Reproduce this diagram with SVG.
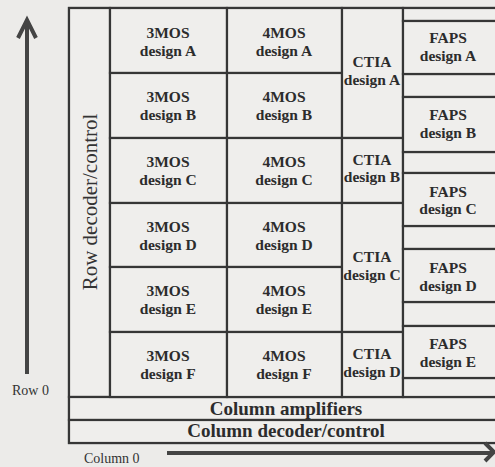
<svg xmlns="http://www.w3.org/2000/svg" width="495" height="467" viewBox="0 0 495 467">
<style>
.bg{fill:#ecebe9}
.cell{fill:#efeeec;stroke:#363636;stroke-width:2.2}
.t{font-family:"Liberation Serif","Times New Roman",serif;font-weight:bold;font-size:15.5px;fill:#2c2c2c;text-anchor:middle}
.band{font-family:"Liberation Serif","Times New Roman",serif;font-weight:bold;font-size:19px;fill:#2c2c2c;text-anchor:middle}
.lbl{font-family:"Liberation Serif","Times New Roman",serif;font-size:14px;fill:#333}
.arr{fill:none;stroke:#444;stroke-width:4}
</style>
<rect class="bg" x="0" y="0" width="495" height="467"/>
<g id="outer"><rect class="cell" x="69" y="8" width="440" height="435"/></g>
<g id="row-decoder"><rect class="cell" x="69" y="8" width="41" height="389"/>
<text class="lbl" style="font-size:21px" transform="translate(97,202) rotate(-90)" text-anchor="middle">Row decoder/control</text></g>
<g id="col-amp"><rect class="cell" x="69" y="397" width="440" height="23"/><text class="band" x="286" y="415">Column amplifiers</text></g>
<g id="col-dec"><rect class="cell" x="69" y="420" width="440" height="23"/><text class="band" x="286" y="437">Column decoder/control</text></g>

<g id="mos3A"><rect class="cell" x="110" y="8" width="117" height="65"/><text class="t" x="168" y="38">3MOS</text><text class="t" x="168" y="56">design A</text></g>
<g id="mos3B"><rect class="cell" x="110" y="73" width="117" height="65"/><text class="t" x="168" y="102">3MOS</text><text class="t" x="168" y="120">design B</text></g>
<g id="mos3C"><rect class="cell" x="110" y="138" width="117" height="65"/><text class="t" x="168" y="167">3MOS</text><text class="t" x="168" y="185">design C</text></g>
<g id="mos3D"><rect class="cell" x="110" y="203" width="117" height="64"/><text class="t" x="168" y="232">3MOS</text><text class="t" x="168" y="250">design D</text></g>
<g id="mos3E"><rect class="cell" x="110" y="267" width="117" height="65"/><text class="t" x="168" y="296">3MOS</text><text class="t" x="168" y="314">design E</text></g>
<g id="mos3F"><rect class="cell" x="110" y="332" width="117" height="65"/><text class="t" x="168" y="361">3MOS</text><text class="t" x="168" y="379">design F</text></g>

<g id="mos4A"><rect class="cell" x="227" y="8" width="115" height="65"/><text class="t" x="284" y="38">4MOS</text><text class="t" x="284" y="56">design A</text></g>
<g id="mos4B"><rect class="cell" x="227" y="73" width="115" height="65"/><text class="t" x="284" y="102">4MOS</text><text class="t" x="284" y="120">design B</text></g>
<g id="mos4C"><rect class="cell" x="227" y="138" width="115" height="65"/><text class="t" x="284" y="167">4MOS</text><text class="t" x="284" y="185">design C</text></g>
<g id="mos4D"><rect class="cell" x="227" y="203" width="115" height="64"/><text class="t" x="284" y="232">4MOS</text><text class="t" x="284" y="250">design D</text></g>
<g id="mos4E"><rect class="cell" x="227" y="267" width="115" height="65"/><text class="t" x="284" y="296">4MOS</text><text class="t" x="284" y="314">design E</text></g>
<g id="mos4F"><rect class="cell" x="227" y="332" width="115" height="65"/><text class="t" x="284" y="361">4MOS</text><text class="t" x="284" y="379">design F</text></g>

<g id="ctiaA"><rect class="cell" x="342" y="8" width="61" height="130"/><text class="t" x="372" y="67">CTIA</text><text class="t" x="372" y="85">design A</text></g>
<g id="ctiaB"><rect class="cell" x="342" y="138" width="61" height="65"/><text class="t" x="372" y="165">CTIA</text><text class="t" x="372" y="182">design B</text></g>
<g id="ctiaC"><rect class="cell" x="342" y="203" width="61" height="129"/><text class="t" x="372" y="262">CTIA</text><text class="t" x="372" y="280">design C</text></g>
<g id="ctiaD"><rect class="cell" x="342" y="332" width="61" height="65"/><text class="t" x="372" y="359">CTIA</text><text class="t" x="372" y="377">design D</text></g>

<g id="faps-strips">
<rect class="cell" x="403" y="8" width="106" height="13"/>
<rect class="cell" x="403" y="74" width="106" height="23"/>
<rect class="cell" x="403" y="152" width="106" height="21"/>
<rect class="cell" x="403" y="226" width="106" height="23"/>
<rect class="cell" x="403" y="302" width="106" height="24"/>
<rect class="cell" x="403" y="378" width="106" height="19"/>
</g>
<g id="fapsA"><rect class="cell" x="403" y="21" width="106" height="53"/><text class="t" x="448" y="43">FAPS</text><text class="t" x="448" y="61">design A</text></g>
<g id="fapsB"><rect class="cell" x="403" y="97" width="106" height="55"/><text class="t" x="448" y="120">FAPS</text><text class="t" x="448" y="138">design B</text></g>
<g id="fapsC"><rect class="cell" x="403" y="173" width="106" height="53"/><text class="t" x="448" y="197">FAPS</text><text class="t" x="448" y="214">design C</text></g>
<g id="fapsD"><rect class="cell" x="403" y="249" width="106" height="53"/><text class="t" x="448" y="273">FAPS</text><text class="t" x="448" y="291">design D</text></g>
<g id="fapsE"><rect class="cell" x="403" y="326" width="106" height="52"/><text class="t" x="448" y="349">FAPS</text><text class="t" x="448" y="367">design E</text></g>

<g id="connectors">
<line class="arr" x1="27" y1="374" x2="27" y2="22"/>
<polyline class="arr" stroke-width="5" points="18,38 27,20 36,38"/>
<line class="arr" x1="167" y1="453" x2="493" y2="453"/>
<polyline class="arr" stroke-width="4" points="485,443 494,452 485,461"/>
</g>
<text class="lbl" x="12" y="395">Row 0</text>
<text class="lbl" x="84" y="463">Column 0</text>
</svg>
